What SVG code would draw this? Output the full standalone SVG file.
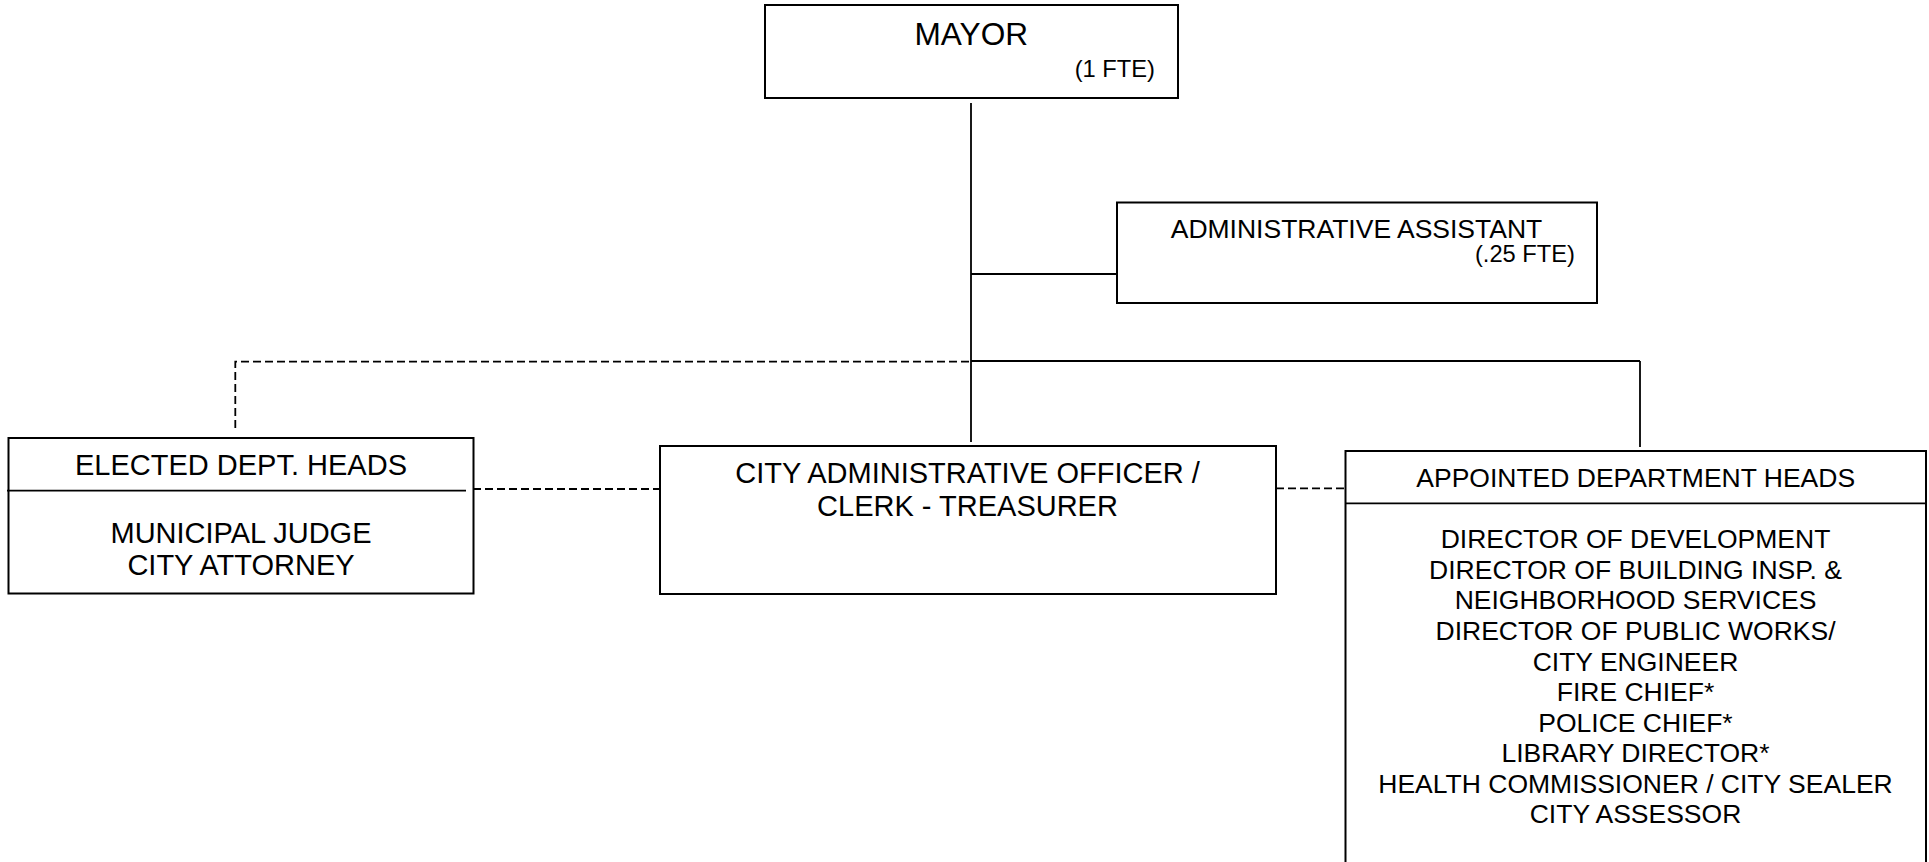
<svg xmlns="http://www.w3.org/2000/svg" width="1929" height="862" viewBox="0 0 1929 862">
<style>
.box{fill:#fff;stroke:#000;stroke-width:2}
.sep{stroke:#000;stroke-width:1.8;fill:none}
.ln{stroke:#000;stroke-width:1.8;fill:none}
.dash{stroke:#000;stroke-width:1.8;fill:none;stroke-dasharray:8 4}
text{font-family:"Liberation Sans",Arial,sans-serif;fill:#000}
.c{text-anchor:middle}
.e{text-anchor:end}
.t29{font-size:29px}
.t26{font-size:26.5px}
.t24{font-size:23.7px}
</style>
<rect width="1929" height="862" fill="#fff"/>
<g id="connectors">
<line class="ln" x1="971" y1="103" x2="971" y2="442"/>
<line class="ln" x1="971" y1="274" x2="1117" y2="274"/>
<line class="ln" x1="971" y1="361" x2="1640" y2="361"/>
<line class="ln" x1="1640" y1="361" x2="1640" y2="447"/>
<polyline class="dash" points="969,361.7 235.3,361.7 235.3,432"/>
<line class="dash" x1="473" y1="489" x2="660" y2="489"/>
<line class="dash" x1="1276" y1="488.3" x2="1346" y2="488.3"/>
</g>
<g id="mayor">
<rect class="box" x="765" y="5" width="413" height="93"/>
<text class="c" x="971.3" y="45" style="font-size:31.6px">MAYOR</text>
<text class="e t24" x="1155" y="77.3">(1 FTE)</text>
</g>
<g id="admin-assistant">
<rect class="box" x="1117" y="202.5" width="480" height="100.5"/>
<text class="c t26" x="1356.5" y="238.3">ADMINISTRATIVE ASSISTANT</text>
<text class="e t24" x="1575" y="261.7">(.25 FTE)</text>
</g>
<g id="elected">
<rect class="box" x="8.5" y="438" width="465" height="155.5"/>
<line class="sep" x1="7" y1="490.7" x2="466" y2="490.7"/>
<text class="c t29" x="241" y="475">ELECTED DEPT. HEADS</text>
<text class="c t29" x="241" y="542.7">MUNICIPAL JUDGE</text>
<text class="c t29" x="241" y="575">CITY ATTORNEY</text>
</g>
<g id="cao">
<rect class="box" x="660" y="446" width="616" height="148"/>
<text class="c t29" x="967.5" y="483.3">CITY ADMINISTRATIVE OFFICER /</text>
<text class="c t29" x="967.5" y="515.7">CLERK - TREASURER</text>
</g>
<g id="appointed">
<rect class="box" x="1345.5" y="451" width="580.5" height="440"/>
<line class="sep" x1="1345.5" y1="503.3" x2="1926" y2="503.3"/>
<text class="c t26" x="1635.7" y="486.7">APPOINTED DEPARTMENT HEADS</text>
<text class="c t26" x="1635.5" y="548.3">DIRECTOR OF DEVELOPMENT</text>
<text class="c t26" x="1635.5" y="578.6">DIRECTOR OF BUILDING INSP. &amp;</text>
<text class="c t26" x="1635.5" y="609.3">NEIGHBORHOOD SERVICES</text>
<text class="c t26" x="1635.5" y="640">DIRECTOR OF PUBLIC WORKS/</text>
<text class="c t26" x="1635.5" y="670.7">CITY ENGINEER</text>
<text class="c t26" x="1635.5" y="701">FIRE CHIEF*</text>
<text class="c t26" x="1635.5" y="731.7">POLICE CHIEF*</text>
<text class="c t26" x="1635.5" y="762.3">LIBRARY DIRECTOR*</text>
<text class="c t26" x="1635.5" y="792.7">HEALTH COMMISSIONER / CITY SEALER</text>
<text class="c t26" x="1635.5" y="822.7">CITY ASSESSOR</text>
</g>
</svg>
